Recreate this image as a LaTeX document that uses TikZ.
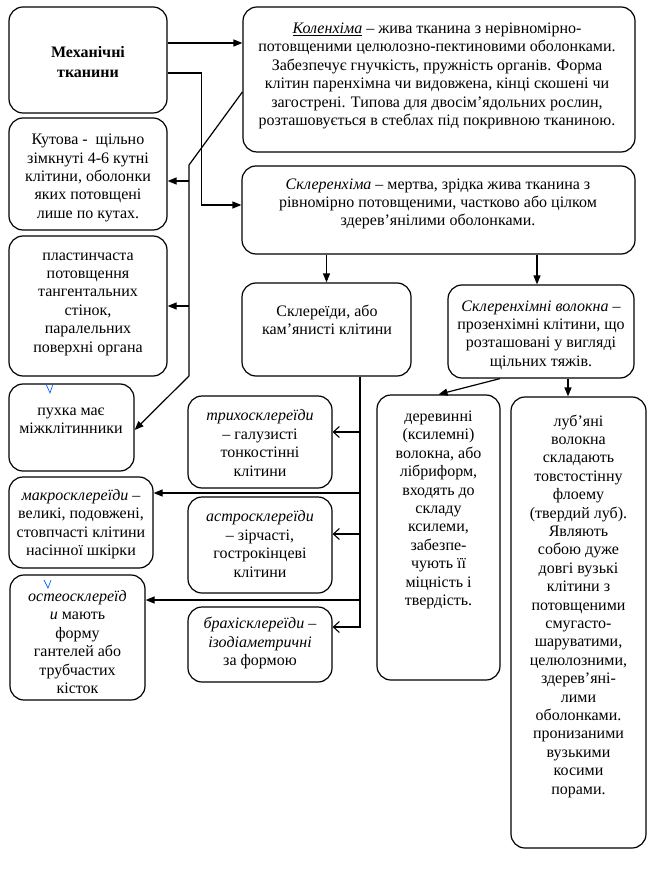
\documentclass[tikz,border=0pt]{standalone}
\usepackage{fontspec}
\setmainfont{Liberation Serif}
\usetikzlibrary{arrows.meta}
\begin{document}
\begin{tikzpicture}[x=1pt,y=-1pt,
  box/.style={draw, rounded corners=14pt, line width=1.2pt, inner sep=0pt},
  txt/.style={align=center, inner sep=0pt, font=\fontsize{16}{18.4}\selectfont},
  arr/.style={line width=1.2pt, -{Triangle[length=9pt,width=7pt]}},
  oarr/.style={line width=1.1pt, -{Straight Barb[length=6pt,width=11pt]}},
  tick/.style={draw=blue!60!cyan, line width=0.7pt}
]
\useasboundingbox (0,0) rectangle (654,882);
% boxes
\node[box, minimum width=158pt, minimum height=106pt] (mech) at (88,60) {};
\node[box, minimum width=392pt, minimum height=145pt] (kol) at (439,79.5) {};
\node[box, minimum width=158pt, minimum height=112pt] (kut) at (88,174) {};
\node[box, minimum width=393pt, minimum height=88pt] (skl) at (438.5,210) {};
\node[box, minimum width=158pt, minimum height=140pt] (plast) at (88,306) {};
\node[box, minimum width=125pt, minimum height=87pt] (pukh) at (71.5,427.5) {};
\node[box, minimum width=169pt, minimum height=93pt] (sklereid) at (326.5,329.5) {};
\node[box, minimum width=186pt, minimum height=93pt] (volok) at (541,331.5) {};
\node[box, minimum width=144pt, minimum height=92pt] (tryho) at (260,442) {};
\node[box, minimum width=144pt, minimum height=91pt] (makro) at (81,522.5) {};
\node[box, minimum width=144pt, minimum height=96pt] (astro) at (260,545) {};
\node[box, minimum width=135pt, minimum height=125pt] (osteo) at (77.5,637.5) {};
\node[box, minimum width=144pt, minimum height=75pt] (brahi) at (260,644.5) {};
\node[box, minimum width=123pt, minimum height=285pt] (derev) at (438.5,537.5) {};
\node[box, minimum width=135pt, minimum height=451pt] (lub) at (578.5,622.5) {};
% texts
\node[txt, font=\fontsize{16}{20}\selectfont\bfseries] (mech-t) at (88,62) {Механічні\\тканини};
\node[txt] (kol-t) at (437,76) {\underline{\textit{Коленхіма}} – жива тканина з нерівномірно-\\потовщеними целюлозно-пектиновими оболонками.\\Забезпечує гнучкість, пружність органів. Форма\\клітин паренхімна чи видовжена, кінці скошені чи\\загострені. Типова для двосім’ядольних рослин,\\розташовується в стеблах під покривною тканиною.};
\node[txt] (kut-t) at (88,178) {Кутова -~ щільно\\зімкнуті 4-6 кутні\\клітини, оболонки\\яких потовщені\\лише по кутах.};
\node[txt] (skl-t) at (438,204) {\textit{Склеренхіма} – мертва, зрідка жива тканина з\\рівномірно потовщеними, частково або цілком\\здерев’янілими оболонками.};
\node[txt] (plast-t) at (88,304) {пластинчаста\\потовщення\\тангентальних\\стінок,\\паралельних\\поверхні органа};
\node[txt] (pukh-t) at (71,421) {пухка має\\міжклітинники};
\node[txt] (sklereid-t) at (327,320) {Склереїди, або\\кам’янисті клітини};
\node[txt] (volok-t) at (541,335) {\textit{Склеренхімні волокна} –\\прозенхімні клітини, що\\розташовані у вигляді\\щільних тяжів.};
\node[txt] (tryho-t) at (260,443) {\textit{трихосклереїди}\\– галузисті\\тонкостінні\\клітини};
\node[txt] (makro-t) at (81,524) {\textit{макросклереїди} –\\великі, подовжені,\\стовпчасті клітини\\насінної шкірки};
\node[txt] (astro-t) at (260,544) {\textit{астросклереїди}\\– зірчасті,\\гострокінцеві\\клітини};
\node[txt] (osteo-t) at (77.5,642) {\textit{остеосклереїд}\\\textit{и} мають\\форму\\гантелей або\\трубчастих\\кісток};
\node[txt] (brahi-t) at (260,643) {\textit{брахісклереїди –}\\\textit{ізодіаметричні}\\за формою};
\node[txt] (derev-t) at (438.5,510) {деревинні\\(ксилемні)\\волокна, або\\лібриформ,\\входять до\\складу\\ксилеми,\\забезпе-\\чують її\\міцність і\\твердість.};
\node[txt] (lub-t) at (578.5,606) {луб’яні\\волокна\\складають\\товстостінну\\флоему\\(твердий луб).\\Являють\\собою дуже\\довгі вузькі\\клітини з\\потовщеними\\смугасто-\\шаруватими,\\целюлозними,\\здерев’яні-\\лими\\оболонками.\\пронизаними\\вузькими\\косими\\порами.};
% connectors from the main box
\draw[arr] ([yshift=17pt]mech.east) -- ([yshift=17pt]mech.east -| kol.west);
\draw[arr] ([yshift=-13pt]mech.east) -- ++(34,0) |- ([yshift=5pt]skl.west);
% collenchyma types
\coordinate (j1) at (189,165);
\coordinate (j2) at (189,376);
\coordinate (kA) at ([yshift=-7pt]kut.east);
\coordinate (pA) at ([yshift=-2.5pt]pukh.east);
\draw[line width=1.2pt] ([yshift=-12.5pt]kol.west) -- (j1) -- (j2);
\draw[arr] (j2) -- (pA);
\draw[arr] (kA -| j1) -- (kA);
\draw[arr] (plast.east -| j1) -- (plast.east);
% sclerenchyma
\draw[arr] (sklereid.north |- skl.south) -- (sklereid.north);
\coordinate (sB) at ([xshift=-4pt]volok.north);
\draw[arr] (sB |- skl.south) -- (sB);
\draw[arr] ([xshift=-41pt]volok.south) -- (derev.north);
\coordinate (vB) at ([xshift=27pt]volok.south);
\draw[arr] (vB) -- (vB |- lub.north);
% sclereids trunk
\coordinate (t0) at ([xshift=33.5pt]sklereid.south);
\coordinate (bA) at ([yshift=17.5pt]brahi.east);
\coordinate (tA) at ([yshift=10pt]tryho.east);
\coordinate (aA) at ([yshift=11pt]astro.east);
\coordinate (mA) at ([yshift=29.5pt]makro.east);
\coordinate (oA) at ([yshift=37.5pt]osteo.east);
\draw[oarr] (t0) |- (bA);
\draw[oarr] (tA -| t0) -- (tA);
\draw[oarr] (aA -| t0) -- (aA);
\draw[arr] (mA -| t0) -- (mA);
\draw[arr] (oA -| t0) -- (oA);
% stray blue marks
\draw[tick] (46,384) -- (50,393) -- (53,384);
\draw[tick] (44,580) -- (48,588) -- (51,580);
\end{tikzpicture}
\end{document}
